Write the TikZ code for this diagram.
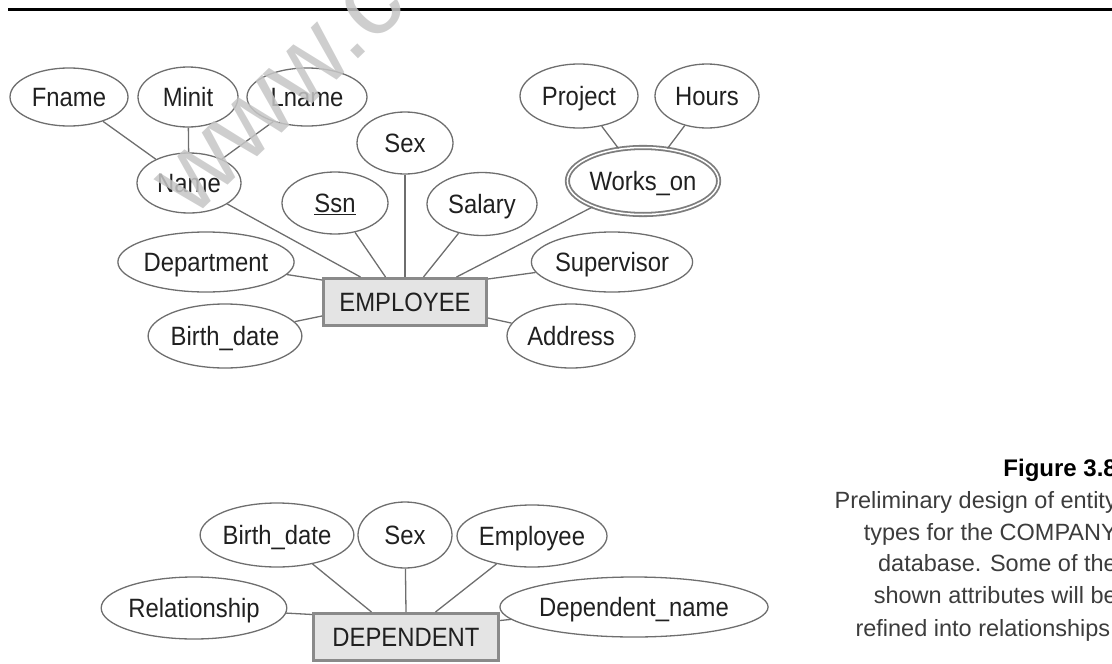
\documentclass[tikz,border=0pt]{standalone}
\usepackage{fontspec}
\setmainfont{Liberation Sans}
\newfontfamily\attrfont[FakeStretch=0.9]{Liberation Sans}
\usetikzlibrary{shapes.geometric,calc}
\definecolor{edgegray}{HTML}{6E6E6E}
\definecolor{boxfill}{HTML}{E4E4E4}
\definecolor{boxedge}{HTML}{8A8A8A}
\definecolor{inkgray}{HTML}{202020}
\definecolor{capgray}{HTML}{3C3C3C}
\definecolor{markgray}{HTML}{C6C6C6}

\begin{document}
\begin{tikzpicture}[x=1pt,y=-1pt,
  esize/.style 2 args={minimum width=#1, minimum height=#2},
  label text/.style={text=inkgray, text height=21pt, text depth=2pt,
    font=\attrfont\fontsize{26.5}{30}\selectfont},
  attr/.style={ellipse, draw=edgegray, line width=1.3pt, inner sep=0pt, label text},
  multiattr/.style={attr, draw=edgegray!90, double=white, double distance=1.5pt, line width=1.8pt},
  entity/.style={rectangle, draw=boxedge, fill=boxfill, line width=3pt,
    inner sep=0pt, label text},
  link/.style={draw=edgegray, line width=1.3pt},
  caption/.style={anchor=base east, inner sep=0pt, text=capgray,
    font=\fontsize{23.5}{28}\selectfont}
]
\useasboundingbox (0,0) rectangle (1112,664);
\clip (0,0) rectangle (1112,664);

% rule across the top of the page
\coordinate (ruleL) at (8,9.5);
\coordinate (ruleR) at (1112,9.5);
\draw[line width=3pt] (ruleL) -- (ruleR);

% ---------------- EMPLOYEE ----------------
\node[entity, esize={163pt}{47pt}] (emp) at (405,302) {EMPLOYEE};

\node[attr, esize={118pt}{58pt}] (fname) at (69,97) {Fname};
\node[attr, esize={100pt}{60pt}] (minit) at (188,97) {Minit};
\node[attr, esize={120pt}{58pt}] (lname) at (307,97) {Lname};
\node[attr, esize={104pt}{60pt}] (name) at (189,183) {Name};
\node[attr, esize={96pt}{62pt}] (sex) at (405,143) {Sex};
\node[attr, esize={106pt}{62pt}] (ssn) at (335,203) {\underline{Ssn}};
\node[attr, esize={110pt}{63pt}] (salary) at (482,204) {Salary};
\node[multiattr, esize={145pt}{67pt}] (works) at (643,181) {Works\_on};
\node[attr, esize={118pt}{64pt}] (project) at (579,96) {Project};
\node[attr, esize={104pt}{64pt}] (hours) at (707,96) {Hours};
\node[attr, esize={172pt}{60pt}] (dept) at (206,262) {Department};
\node[attr, esize={154pt}{60pt}] (super) at (612,262) {Supervisor};
\node[attr, esize={148pt}{64pt}] (bdate) at (225,336) {Birth\_date};
\node[attr, esize={128pt}{64pt}] (addr) at (571,336) {Address};

% attachment points on the EMPLOYEE box
\coordinate (eName) at ($(emp.north west)+(38.5,0)$);
\coordinate (eSsn) at ($(emp.north west)+(63.5,0)$);
\coordinate (eSal) at ($(emp.north west)+(101.5,0)$);
\coordinate (eWork) at ($(emp.north west)+(134.5,0)$);
\coordinate (eDept) at ($(emp.north west)+(0,3)$);
\coordinate (eBirth) at ($(emp.west)+(0,14)$);
\coordinate (eSup) at ($(emp.north east)+(0,2)$);
\coordinate (eAddr) at ($(emp.east)+(0,16)$);

\draw[link] (fname) -- (name);
\draw[link] (minit) -- (name);
\draw[link] (lname) -- (name);
\draw[link] (project) -- (works);
\draw[link] (hours) -- (works);
\draw[link] (name) -- (eName);
\draw[link] (ssn) -- (eSsn);
\draw[link] (sex) -- (emp.north);
\draw[link] (salary) -- (eSal);
\draw[link] (works) -- (eWork);
\draw[link] (dept) -- (eDept);
\draw[link] (bdate) -- (eBirth);
\draw[link] (super) -- (eSup);
\draw[link] (addr) -- (eAddr);

% ---------------- DEPENDENT ----------------
\node[entity, esize={185pt}{47pt}] (dep) at (406,637) {DEPENDENT};

\node[attr, esize={144pt}{64pt}] (dbdate) at (277,535) {Birth\_date};
\node[attr, esize={94pt}{66pt}] (dsex) at (405,535) {Sex};
\node[attr, esize={142pt}{62pt}] (demp) at (532,536) {Employee};
\node[attr, esize={182pt}{62pt}] (drel) at (194,608) {Relationship};
\node[attr, esize={218pt}{60pt}] (dname) at (634,607) {Dependent\_name};

\coordinate (dBirth) at ($(dep.north west)+(59.5,0)$);
\coordinate (dEmp) at ($(dep.north west)+(123.5,0)$);
\coordinate (dRel) at ($(dep.north west)+(0,2.5)$);
\coordinate (dName) at ($(dep.north east)+(0,8.5)$);

\draw[link] (dbdate) -- (dBirth);
\draw[link] (dsex) -- (dep.north);
\draw[link] (demp) -- (dEmp);
\draw[link] (drel) -- (dRel);
\draw[link] (dname) -- (dName);

% ---------------- caption ----------------
\node[anchor=base east, inner sep=0pt, font=\bfseries\fontsize{24}{28}\selectfont] (figno) at (1117,476) {Figure 3.8};
\node[caption] (cap1) at (1117,508) {Preliminary design of entity};
\node[caption] (cap2) at (1117,540) {types for the COMPANY};
\node[caption] (cap3) at (1117,571.5) {database. Some of the};
\node[caption] (cap4) at (1117,603) {shown attributes will be};
\node[caption] (cap5) at (1117,636) {refined into relationships.};

% faint site mark over the upper diagram
\node[anchor=base west, inner sep=0pt, rotate=44, text=markgray, opacity=0.85,
  font=\fontsize{105}{110}\selectfont] (mark) at (192,220) {www.c};
\end{tikzpicture}
\end{document}
